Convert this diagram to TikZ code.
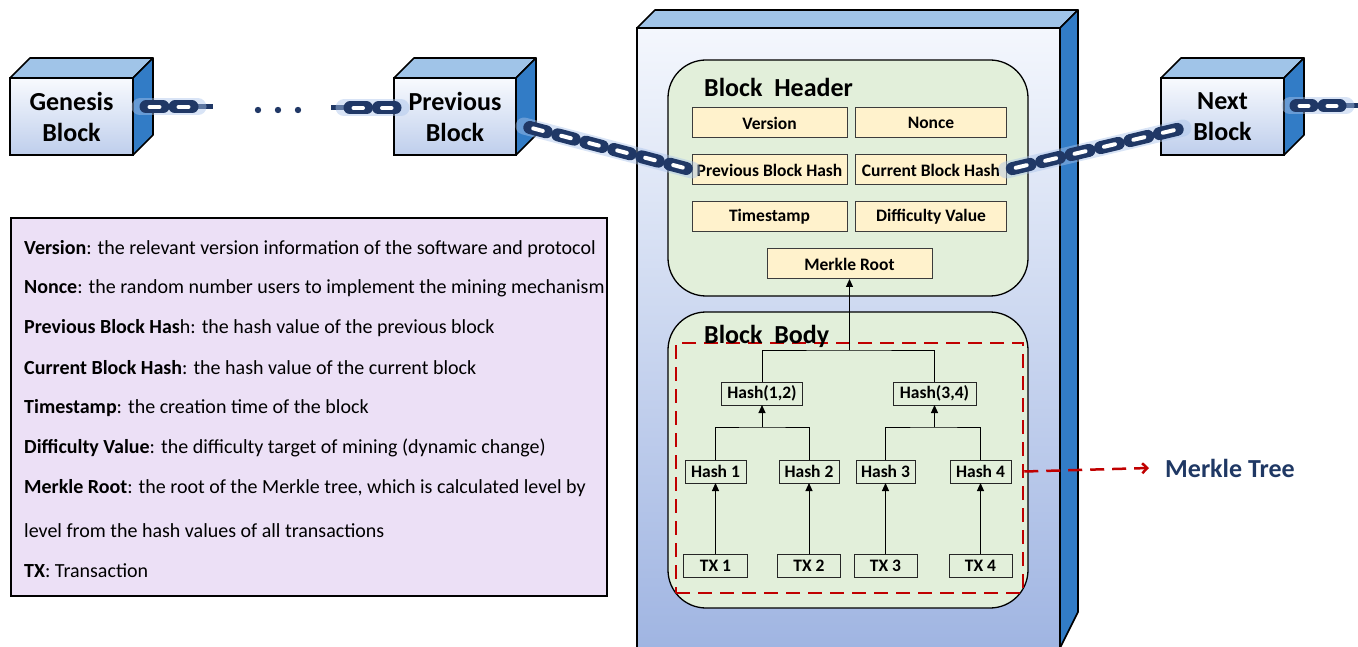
\documentclass[tikz,border=0pt]{standalone}
\usepackage{fontspec}
\setmainfont{Carlito}
\usetikzlibrary{calc,arrows.meta}
\definecolor{cubetopc}{RGB}{160,196,232}
\definecolor{cubesidec}{RGB}{50,124,198}
\definecolor{cubefronttop}{RGB}{248,250,254}
\definecolor{cubefrontbot}{RGB}{190,206,236}
\definecolor{bigfronttop}{RGB}{244,247,253}
\definecolor{bigfrontbot}{RGB}{160,181,226}
\definecolor{panelc}{RGB}{226,239,218}
\definecolor{fieldc}{RGB}{255,242,204}
\definecolor{fieldborder}{RGB}{60,60,60}
\definecolor{chainc}{RGB}{32,56,102}
\definecolor{chainglowc}{RGB}{170,196,235}
\definecolor{redc}{RGB}{192,0,0}
\definecolor{navyc}{RGB}{31,56,100}
\definecolor{lavc}{RGB}{236,224,246}
\newcommand\mycube[6]{%
  \node[cubefront, minimum width=#4, minimum height=#5] (#1) at (#2,#3) {#6};
  \draw[cubetop] (#1.north west) -- ++(20,-20) -- ++(#4,0) -- (#1.north east) -- cycle;
  \draw[cubeside] (#1.north east) -- ++(20,-20) -- ++(0,#5) -- (#1.south east) -- cycle;
}
\newcommand\mychain[3]{%
  \path let \p1=($(#2)-(#1)$) in \pgfextra{\pgfmathsetmacro\chainD{veclen(\x1,\y1)}\global\let\chainD\chainD};
  \pgfmathsetmacro\chainL{\chainD/#3}%
  \draw[chainglow] (#1) -- (#2);
  \foreach \i in {1,...,#3}{%
    \pgfmathsetmacro\sa{(\i-1)*\chainL+6}%
    \pgfmathsetmacro\sb{\i*\chainL-6}%
    \pgfmathsetmacro\wa{(\i-1)*\chainL+9.5}%
    \pgfmathsetmacro\wb{\i*\chainL-9.5}%
    \draw[chaindark] ($(#1)!\sa pt!(#2)$) -- ($(#1)!\sb pt!(#2)$);
    \draw[chainslot] ($(#1)!\wa pt!(#2)$) -- ($(#1)!\wb pt!(#2)$);
  }%
}
\begin{document}
\begin{tikzpicture}[x=1pt,y=-1pt,
  cubefront/.style={draw=black, line width=1.6pt, top color=cubefronttop, bottom color=cubefrontbot, align=center, font=\bfseries\fontsize{26}{31}\selectfont, inner sep=0pt, outer sep=0pt},
  bigfront/.style={draw=black, line width=1.6pt, top color=bigfronttop, bottom color=bigfrontbot, inner sep=0pt, outer sep=0pt},
  cubetop/.style={draw=black, line width=1.6pt, fill=cubetopc, line join=round},
  cubeside/.style={draw=black, line width=1.6pt, fill=cubesidec, line join=round},
  panel/.style={draw=black, line width=1.3pt, fill=panelc, rounded corners=38pt, inner sep=0pt, outer sep=0pt},
  field/.style={draw=fieldborder, line width=1pt, fill=fieldc, font=\bfseries\fontsize{17.5}{19}\selectfont, inner sep=0pt, outer sep=0pt, minimum height=30},
  tnode/.style={draw=black!85, line width=1pt, fill=panelc, font=\bfseries\fontsize{17.5}{19}\selectfont, inner sep=0pt, outer sep=0pt, minimum height=23},
  arr/.style={line width=1pt, -{Triangle[length=8pt,width=7pt]}},
  tline/.style={line width=1pt},
  title/.style={anchor=west, font=\bfseries\fontsize{26}{30}\selectfont, inner sep=0pt},
  desc/.style={anchor=west, font=\fontsize{20}{22}\selectfont, inner sep=0pt},
  chainglow/.style={line width=17pt, chainglowc, opacity=0.45, line cap=round},
  chaindark/.style={line width=13pt, chainc, line cap=round},
  chainslot/.style={line width=4pt, white, line cap=round},
  stub/.style={line width=5pt, chainc},
  reddash/.style={redc, line width=2.5pt, dash pattern=on 14pt off 8pt}
]
\useasboundingbox (0,0) rectangle (1358,647);

% big block
\node[bigfront, minimum width=423, minimum height=620] (blk) at (848.5,338) {};
\draw[cubetop] (blk.north west) -- ++(18,-18) -- ++(423,0) -- (blk.north east) -- cycle;
\draw[cubeside] (blk.north east) -- ++(18,-18) -- ++(0,602) -- (blk.south east) -- cycle;

% header panel
\node[panel, minimum width=360, minimum height=236] (hdr) at (848,178) {};
\node[title] (hdrt) at (704,87) {Block\ \ Header};
\node[field, minimum width=155] (ver) at (769.5,123) {Version};
\node[field, minimum width=151] (non) at (931,123) {Nonce};
\node[field, minimum width=155] (phash) at (769.5,170) {Previous Block Hash};
\node[field, minimum width=151] (chash) at (931,170) {Current Block Hash};
\node[field, minimum width=155] (ts) at (769.5,217) {Timestamp};
\node[field, minimum width=151] (dv) at (931,217) {Difficulty Value};
\node[field, minimum width=165] (mroot) at (849.5,264) {Merkle Root};

% body panel
\node[panel, minimum width=360, minimum height=296] (body) at (848,460) {};
\node[draw=redc, line width=2.5pt, dash pattern=on 14pt off 8pt, minimum width=347, minimum height=250, inner sep=0pt] (mtree) at (849.5,468) {};
\node[title] (bodyt) at (704,336) {Block\ \ Body};

% merkle tree nodes
\node[tnode, minimum width=81] (h12) at (762,393.5) {Hash(1,2)};
\node[tnode, minimum width=83] (h34) at (934.5,393.5) {Hash(3,4)};
\node[tnode, minimum width=61] (h1) at (715.5,471.5) {Hash 1};
\node[tnode, minimum width=60] (h2) at (809,471.5) {Hash 2};
\node[tnode, minimum width=59] (h3) at (885.5,471.5) {Hash 3};
\node[tnode, minimum width=61] (h4) at (980.5,471.5) {Hash 4};
\node[tnode, minimum width=64] (tx1) at (715.5,565.5) {TX 1};
\node[tnode, minimum width=63] (tx2) at (809,565.5) {TX 2};
\node[tnode, minimum width=63] (tx3) at (885.5,565.5) {TX 3};
\node[tnode, minimum width=63] (tx4) at (980.5,565.5) {TX 4};

\draw[arr] (tx1) -- (h1);
\draw[arr] (tx2) -- (h2);
\draw[arr] (tx3) -- (h3);
\draw[arr] (tx4) -- (h4);
\coordinate (j12) at (762,427);
\coordinate (j34) at (934.5,427);
\draw[tline] (h1.north) |- (j12) -| (h2.north);
\draw[tline] (h3.north) |- (j34) -| (h4.north);
\draw[arr] (j12) -- (h12);
\draw[arr] (j34) -- (h34);
\coordinate (jr) at (849.5,350);
\draw[tline] (h12.north) |- (jr) -| (h34.north);
\draw[arr] (jr) -- (mroot);

% merkle tree label
\node[anchor=west, inner sep=0pt, font=\bfseries\fontsize{26}{30}\selectfont, text=navyc] (mtl) at (1165,468) {Merkle Tree};
\draw[reddash, -{Straight Barb[length=5pt,width=10pt]}] (mtree.east |- h4) -- ($(mtl.west)+(-16,0)$);

% small cubes
\mycube{gen}{71.5}{116.5}{123}{77}{Genesis\\Block}
\mycube{prev}{455}{116.5}{122}{77}{Previous\\Block}
\mycube{next}{1222.5}{116.5}{123}{77}{Next\\Block}

% description box
\node[draw=black, line width=1.6pt, fill=lavc, minimum width=596, minimum height=378, anchor=north west, inner sep=0pt] (descbox) at (10,217) {};
\node[desc] (d1) at (24,249) {\textbf{Version}: the relevant version information of the software and protocol};
\node[desc] (d2) at (24,288) {\textbf{Nonce}: the random number users to implement the mining mechanism};
\node[desc] (d3) at (24,328) {\textbf{Previous Block Has}h: the hash value of the previous block};
\node[desc] (d4) at (24,368) {\textbf{Current Block Hash}: the hash value of the current block};
\node[desc] (d5) at (24,408) {\textbf{Timestamp}: the creation time of the block};
\node[desc] (d6) at (24,448) {\textbf{Difficulty Value}: the difficulty target of mining (dynamic change)};
\node[desc] (d7) at (24,488) {\textbf{Merkle Root}: the root of the Merkle tree, which is calculated level by};
\node[desc] (d8) at (24,531) {level from the hash values of all transactions};
\node[desc] (d9) at (24,571) {\textbf{TX}: Transaction};

% chains
\coordinate (gc1) at (140,107);
\coordinate (gc2) at (198,107);
\coordinate (gs) at (213,107);
\draw[stub] (gc2) -- (gs);
\mychain{gc1}{gc2}{2}

\coordinate (ps) at (331,108);
\coordinate (pc1) at (344,108);
\coordinate (pc2) at (401,108);
\draw[stub] (ps) -- (pc1);
\mychain{pc1}{pc2}{2}

\coordinate (pr1) at (524,126);
\mychain{pr1}{phash.west}{6}

\coordinate (nb1) at (1183,128);
\mychain{chash.east}{nb1}{6}

\coordinate (nr1) at (1290,106);
\coordinate (nr2) at (1346,106);
\coordinate (ns) at (1358,106);
\draw[stub] (nr2) -- (ns);
\mychain{nr1}{nr2}{2}

% dots
\fill[chainc] (258,110) circle (3.2) (278,110) circle (3.2) (298,110) circle (3.2);
\end{tikzpicture}
\end{document}
